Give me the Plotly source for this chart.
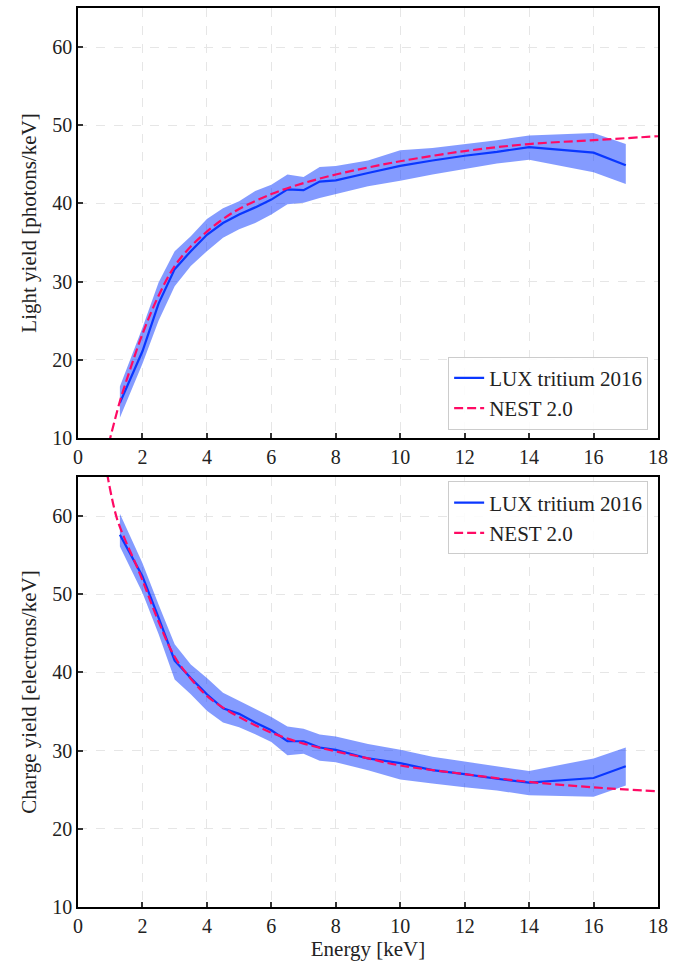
import plotly.graph_objects as go
from plotly.subplots import make_subplots

# LUX tritium 2016 measurements (energy in keV)
energy = [1.3, 2, 2.5, 3, 3.5, 4, 4.5, 5, 5.5, 6, 6.5, 7, 7.5, 8, 9, 10, 11, 12, 13, 14, 16, 17]

ly_mean = [14.5, 21.1, 27.2, 31.6, 33.9, 36.0, 37.5, 38.6, 39.5, 40.5, 41.8, 41.7, 42.8, 42.95,
           43.9, 44.8, 45.5, 46.1, 46.6, 47.2, 46.5, 44.9]
ly_high = [16.6, 24.1, 29.9, 33.9, 35.8, 38.0, 39.4, 40.3, 41.6, 42.4, 43.7, 43.4, 44.65, 44.8,
           45.5, 46.8, 47.1, 47.6, 48.1, 48.7, 49.0, 47.6]
ly_low = [12.6, 19.5, 25.0, 29.4, 32.0, 33.9, 35.6, 36.7, 37.5, 38.6, 39.9, 40.1, 40.7, 41.2,
          42.2, 42.9, 43.7, 44.4, 45.1, 45.6, 44.0, 42.5]

qy_mean = [57.6, 52.3, 47.0, 41.5, 39.3, 37.2, 35.4, 34.7, 33.6, 32.6, 31.2, 31.2, 30.4, 30.1,
           29.0, 28.4, 27.5, 27.0, 26.4, 25.9, 26.5, 28.0]
qy_high = [60.3, 54.0, 48.7, 43.6, 41.0, 39.3, 37.4, 36.4, 35.3, 34.3, 33.1, 32.8, 32.05, 31.8,
           30.85, 30.1, 29.2, 28.6, 28.0, 27.4, 29.0, 30.4]
qy_low = [56.1, 50.2, 44.9, 39.1, 37.2, 35.1, 33.6, 33.0, 32.1, 31.1, 29.4, 29.6, 28.7, 28.5,
          27.5, 26.3, 25.8, 25.3, 24.9, 24.3, 24.1, 25.55]

# NEST 2.0 model curves
nest_ly_e = [0.95, 1.3, 1.5, 2, 2.5, 3, 3.5, 4, 4.5, 5, 6, 7, 8, 9, 10, 12, 14, 16, 18]
nest_ly = [9.2, 14.7, 17.3, 23.3, 28.2, 32.0, 34.5, 36.4, 38.0, 39.3, 41.2, 42.6, 43.7, 44.6,
           45.4, 46.7, 47.6, 48.1, 48.6]
nest_qy_e = [0.9, 1.2, 1.5, 1.8, 2, 2.5, 3, 3.5, 4, 4.5, 5, 6, 7, 8, 9, 10, 12, 14, 16, 18]
nest_qy = [65.5, 59.8, 56.6, 53.8, 51.8, 46.5, 42.0, 39.2, 37.0, 35.5, 34.3, 32.3, 30.9, 29.9,
           29.0, 28.1, 27.0, 26.0, 25.3, 24.8]

x_ticks = [0, 2, 4, 6, 8, 10, 12, 14, 16, 18]
y_ticks = [10, 20, 30, 40, 50, 60]

BLUE = "#0a37ff"
BAND = "rgba(10,55,255,0.5)"
PINK = "#ff0a64"
FONT = "Liberation Serif"
TEXT = "#222222"

fig = make_subplots(rows=2, cols=1, vertical_spacing=0.0433)


def add_panel(row, mean, high, low, nest_e, nest_y, legend):
    fig.add_trace(go.Scatter(x=energy, y=high, mode="lines", line=dict(width=0, color=BAND),
                             showlegend=False, hoverinfo="skip"), row=row, col=1)
    fig.add_trace(go.Scatter(x=energy, y=low, mode="lines", line=dict(width=0, color=BAND),
                             fill="tonexty", fillcolor=BAND, showlegend=False,
                             hoverinfo="skip"), row=row, col=1)
    fig.add_trace(go.Scatter(x=energy, y=mean, mode="lines", name="LUX tritium 2016",
                             line=dict(color=BLUE, width=2.2), legend=legend), row=row, col=1)
    fig.add_trace(go.Scatter(x=nest_e, y=nest_y, mode="lines", name="NEST 2.0",
                             line=dict(color=PINK, width=2.2, dash="9px,4px", shape="spline"),
                             legend=legend), row=row, col=1)


add_panel(1, ly_mean, ly_high, ly_low, nest_ly_e, nest_ly, "legend")
add_panel(2, qy_mean, qy_high, qy_low, nest_qy_e, nest_qy, "legend2")

axis_common = dict(
    showline=True, linecolor="black", linewidth=1.5, mirror=True,
    ticks="inside", ticklen=5, tickwidth=1.5, tickcolor="#333333",
    showgrid=True, gridcolor="#e6e6e6", griddash="dash", gridwidth=1,
    zeroline=False, tickfont=dict(family=FONT, size=20, color=TEXT),
)

for r in (1, 2):
    fig.update_xaxes(range=[0, 18], tickvals=x_ticks, row=r, col=1, **axis_common)
    fig.update_yaxes(range=[10, 65], tickvals=y_ticks, row=r, col=1, **axis_common)

title_font = dict(family=FONT, size=21, color=TEXT)
fig.update_xaxes(title=dict(text="Energy [keV]", font=title_font, standoff=4), row=2, col=1)
fig.update_yaxes(title=dict(text="Light yield [photons/keV]", font=title_font, standoff=10),
                 row=1, col=1)
fig.update_yaxes(title=dict(text="Charge yield [electrons/keV]", font=title_font, standoff=10),
                 row=2, col=1)

legend_style = dict(
    xanchor="right", x=0.983, traceorder="normal",
    bgcolor="rgba(255,255,255,0.85)", bordercolor="#cccccc", borderwidth=1,
    font=dict(family=FONT, size=21, color=TEXT),
)
fig.update_layout(
    width=681, height=961,
    margin=dict(l=78, r=23, t=6, b=53),
    paper_bgcolor="white", plot_bgcolor="white",
    legend=dict(y=0.531, yanchor="bottom", **legend_style),
    legend2=dict(y=0.4734, yanchor="top", **legend_style),
)

fig.write_html("out.html")
